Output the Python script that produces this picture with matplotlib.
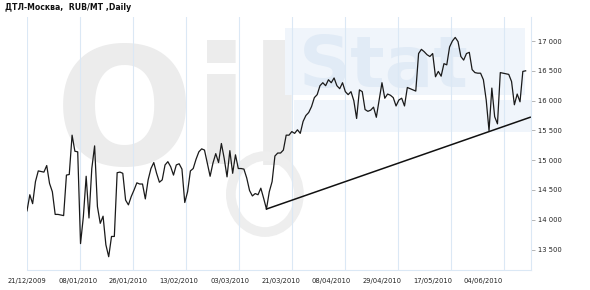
import numpy as np
import matplotlib.pyplot as plt
from matplotlib.patches import Ellipse

# daily prices, RUB/MT
price = [14150, 14420, 14270, 14640, 14820, 14810, 14800, 14910, 14610, 14470,
         14090, 14090, 14080, 14070, 14750, 14760, 15420, 15150, 15140, 13600,
         14050, 14730, 14030, 14860, 15240, 14220, 13940, 14060, 13580, 13380,
         13720, 13720, 14790, 14800, 14780, 14330, 14250, 14390, 14500, 14620,
         14600, 14600, 14350, 14670, 14860, 14960, 14780, 14630, 14670, 14920,
         14975, 14890, 14750, 14920, 14940, 14850, 14290, 14470, 14820, 14860,
         15015, 15140, 15190, 15170, 14950, 14730, 14950, 15110, 14960, 15280,
         15030, 14720, 15160, 14780, 15090, 14860, 14860, 14850, 14700, 14490,
         14400, 14440, 14420, 14530, 14360, 14180, 14470, 14640, 15070, 15120,
         15120, 15170, 15420, 15420, 15480, 15450, 15510, 15450, 15650, 15750,
         15800, 15900, 16050, 16100, 16250, 16300, 16250, 16350, 16300, 16380,
         16250, 16200, 16300, 16150, 16100, 16150, 16000, 15700, 16180, 16150,
         15850, 15820, 15840, 15890, 15720, 16010, 16300, 16040, 16110, 16090,
         16050, 15910, 16010, 16040, 15910, 16220, 16200, 16180, 16160, 16790,
         16860, 16820, 16770, 16740, 16790, 16400, 16490, 16410, 16620, 16600,
         16900, 17000, 17060, 16990, 16740, 16680, 16790, 16810, 16520, 16470,
         16460, 16460, 16350, 16010, 15495, 16210, 15730, 15610, 16470, 16460,
         16450, 16440, 16320, 15930, 16110, 15980, 16490, 16500]

date_labels = ['21/12/2009', '08/01/2010', '26/01/2010', '13/02/2010', '03/03/2010',
               '21/03/2010', '08/04/2010', '29/04/2010', '17/05/2010', '04/06/2010']
label_step = 18

# support (trend) line: from the March low, through the June low
trend_x = [85, 178.6]
trend_y = [14180, 15720]

y_ticks = [13500, 14000, 14500, 15000, 15500, 16000, 16500, 17000]

#%%
fig = plt.figure(figsize=(5.9, 2.9), dpi=100)
ax = fig.add_axes([27/590, 20/290, 504/590, 253/290])

x = np.arange(len(price))
ax.set_xlim(0, 178.9)
ax.set_ylim(13157, 17403)

# watermark (OilStat logo)
ax.text(0.056, 0.415, 'Oil', transform=ax.transAxes, fontsize=118, fontweight='bold',
        color='#ececec', ha='left', va='baseline', zorder=0)
ax.add_patch(Ellipse((0.472, 0.30), 0.135, 0.30, transform=ax.transAxes,
                     fill=False, ec='#eeeeee', lw=7, zorder=0))
ax.axhspan(16094, 17218, xmin=0.512, xmax=0.988, color='#f0f5fb', zorder=0, lw=0)
ax.axhspan(15470, 16010, xmin=0.53, xmax=1.0, color='#f0f5fb', zorder=0, lw=0)
ax.text(0.54, 0.80, 'Stat', transform=ax.transAxes, fontsize=52, fontweight='bold',
        color='#e1ebf6', ha='left', va='center', zorder=0)

# vertical grid
grid_step = 18.81
for g in np.arange(0, 178, grid_step):
    ax.axvline(g, color='#dbe8f5', lw=0.8, zorder=1)

ax.plot(x, price, color='#1a1a1a', lw=0.9, zorder=3)
ax.plot(trend_x, trend_y, color='#111111', lw=1.1, zorder=3)

for s in ['top', 'left']:
    ax.spines[s].set_visible(False)
for s in ['right', 'bottom']:
    ax.spines[s].set_color('#dbe8f5')
    ax.spines[s].set_linewidth(0.8)

ax.set_xticks(np.arange(len(date_labels)) * label_step)
ax.set_xticklabels(date_labels, fontsize=4.9, color='#222222')
ax.tick_params(axis='x', length=0, pad=6)

ax.yaxis.tick_right()
ax.set_yticks(y_ticks)
ax.set_yticklabels(['{:,}'.format(v).replace(',', ' ') for v in y_ticks],
                   fontsize=4.9, color='#222222')
ax.tick_params(axis='y', length=3, width=0.6, color='#aaaaaa', pad=2)

fig.text(5/590, 1 - 8/290, 'ДТЛ-Москва,  RUB/MT ,Daily', fontsize=5.6,
         fontweight='bold', color='#111111', ha='left', va='center')

plt.savefig('out.png', dpi=100)
